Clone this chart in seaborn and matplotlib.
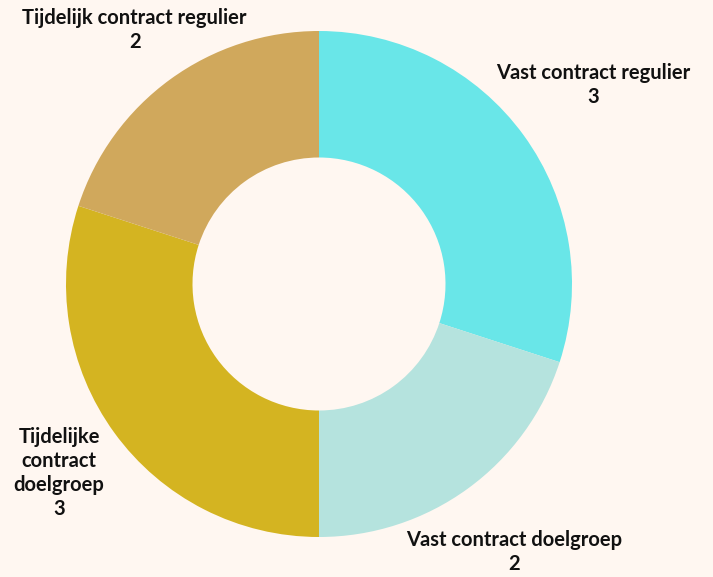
import numpy as np
import matplotlib
matplotlib.use("Agg")
import matplotlib.pyplot as plt
import seaborn as sns

categories = ["Vast contract regulier", "Vast contract doelgroep",
              "Tijdelijke\ncontract\ndoelgroep", "Tijdelijk contract regulier"]
values = [3, 2, 3, 2]
colors = ["#69E6E8", "#B5E3DE", "#D4B421", "#D0A85C"]
label_dist = [1.34, 1.31, 1.27, 1.24]

sns.set_theme(style="white")
plt.rcParams['font.family'] = ['Lato', 'DejaVu Sans']
bg = "#FFF7F1"

W, H = 713, 577
fig = plt.figure(figsize=(W / 100, H / 100), dpi=100, facecolor=bg)
cx, cy, R = 319, 284, 253
ax = fig.add_axes([(cx - R) / W, (H - cy - R) / H, 2 * R / W, 2 * R / H])
ax.set_facecolor(bg)

wedges, _ = ax.pie(values, colors=sns.color_palette(colors), startangle=90,
                   counterclock=False, radius=1,
                   wedgeprops=dict(width=0.5, linewidth=0))

for w, cat, v, d in zip(wedges, categories, values, label_dist):
    ang = np.deg2rad((w.theta1 + w.theta2) / 2)
    ax.text(d * np.cos(ang), d * np.sin(ang), f"{cat}\n{v}", ha="center", va="center",
            fontsize=14.5, fontweight="bold", color="#111111", linespacing=1.25,
            clip_on=False)

ax.set_xlim(-1, 1)
ax.set_ylim(-1, 1)
ax.set_aspect("equal")
ax.axis("off")
fig.savefig("out.png", dpi=100, facecolor=bg)
